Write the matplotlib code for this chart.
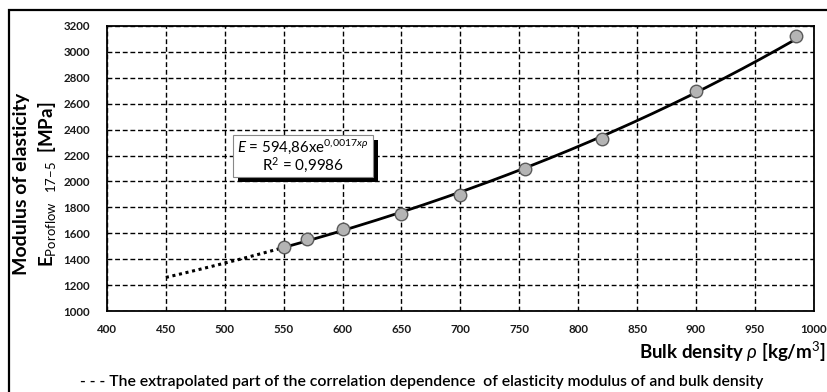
import numpy as np
import matplotlib.pyplot as plt
from matplotlib.patches import Rectangle

plt.rcParams['font.family'] = ['Lato', 'DejaVu Sans']
plt.rcParams['mathtext.fontset'] = 'custom'
plt.rcParams['mathtext.rm'] = 'Lato'
plt.rcParams['mathtext.it'] = 'Lato:italic'
plt.rcParams['mathtext.bf'] = 'Lato:bold'

# measured points
density = [550, 570, 600, 650, 700, 755, 820, 900, 985]
modulus = [1492, 1556, 1633, 1752, 1895, 2100, 2326, 2699, 3122]
xticks = list(range(400, 1001, 50))
yticks = list(range(1000, 3201, 200))
eq_text = "$\\mathbf{\\mathit{E}}$ = 594,86xe$^{0{,}0017x\\rho}$"
r2_text = "R$^2$ = 0,9986"
caption = "- - - The extrapolated part of the correlation dependence  of elasticity modulus of and bulk density"

# exponential trend fitted to the points
k, lna = np.polyfit(density, np.log(modulus), 1)
rho_fit = np.linspace(550, 985, 200)
rho_ext = np.linspace(450, 550, 50)

fig = plt.figure(figsize=(8.28, 3.92), dpi=100)
ax = fig.add_axes([0.1292, 0.2066, 0.9828 - 0.1292, 0.9337 - 0.2066])

ax.plot(rho_ext, np.exp(lna + k*rho_ext), color='black', lw=2.2, ls=(0, (1, 1.2)))
ax.plot(rho_fit, np.exp(lna + k*rho_fit), color='black', lw=2, zorder=3)
ax.plot(density, modulus, 'o', ms=9, mfc='#b4b4b4', mec='#5a5a5a', mew=1, zorder=4)

ax.set_xlim(400, 1000)
ax.set_ylim(1000, 3200)
ax.set_xticks(xticks)
ax.set_yticks(yticks)
ax.grid(True, color='black', ls=(0, (3.5, 2)), lw=1)
ax.tick_params(length=0, labelsize=8.3)
ax.tick_params(axis='y', pad=12)
ax.tick_params(axis='x', pad=9)
for lab in ax.get_xticklabels() + ax.get_yticklabels():
    lab.set_fontweight('bold')
    lab.set_color('#1a1a1a')
for s in ax.spines.values():
    s.set_linewidth(1.3)

# y label (two lines)
fig.text(0.026, 0.53, "Modulus of elasticity", rotation=90, ha='center', va='center',
         fontsize=14, fontweight='bold')
fig.text(0.057, 0.53, "$\\mathbf{E}_{\\mathrm{Poroflow}\\quad 17\\mathrm{-}5}$  [MPa]", rotation=90,
         ha='center', va='center', fontsize=13.5, fontweight='bold')

# x label
fig.text(0.997, 0.102, "Bulk density $\\rho$ [kg/m$^3$]", ha='right', va='center',
         fontsize=13.5, fontweight='bold')

# caption
fig.text(0.097, 0.025, caption, ha='left', va='center', fontsize=11.3, fontweight='semibold')

# equation box with shadow
bx0, by0, bw, bh = 233/828, 1-177/392, 140/828, 42/392
fig.patches.append(Rectangle((bx0 + 0.006, by0 - 0.014), bw, bh, transform=fig.transFigure,
                             facecolor='black', edgecolor='none', zorder=5))
fig.patches.append(Rectangle((bx0, by0), bw, bh, transform=fig.transFigure,
                             facecolor='white', edgecolor='#888888', lw=0.8, zorder=6))
fig.text(bx0 + bw/2, by0 + bh*0.72, eq_text, ha='center', va='center', fontsize=10.8, zorder=7)
fig.text(bx0 + bw/2, by0 + bh*0.27, r2_text, ha='center', va='center', fontsize=11, zorder=7)

# outer frame (cropped)
fig.patches.append(Rectangle((9/828, -0.5), 2, 1.5 - 10/392, transform=fig.transFigure,
                             facecolor='none', edgecolor='black', lw=1.6, zorder=0))

fig.savefig('out.png', dpi=100)
